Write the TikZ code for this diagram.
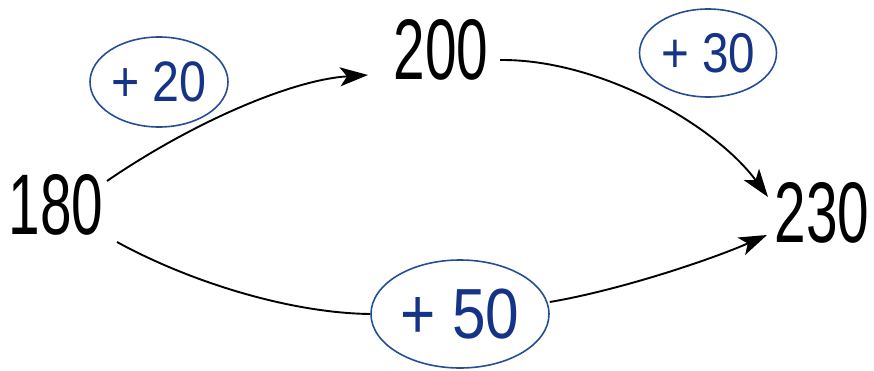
\documentclass[tikz,border=0pt]{standalone}
\usepackage{fontspec}
\usepackage{graphicx}
\setmainfont{Liberation Sans}
\usetikzlibrary{shapes.geometric,arrows.meta}
\definecolor{textblue}{RGB}{22,52,135}
\definecolor{edgeblue}{RGB}{38,78,150}
\tikzset{
  num/.style={inner sep=0pt, font=\fontsize{86}{86}\selectfont},
  oper/.style={ellipse, draw=edgeblue, line width=1.6pt, text=textblue, inner sep=0pt},
  conn/.style={line width=1.9pt, black},
  arr/.style={conn, -{Stealth[length=28pt,width=19pt,inset=7pt]}}
}
\begin{document}
\begin{tikzpicture}[x=1pt,y=1pt]
\useasboundingbox (0,0) rectangle (874,370);
\node[num] (n180) at (56,165) {\scalebox{0.66}[1]{180}};
\node[num] (n200) at (441,320) {\scalebox{0.66}[1]{200}};
\node[num] (n230) at (822,157) {\scalebox{0.66}[1]{230}};
\node[oper, minimum width=138pt, minimum height=90pt, font=\fontsize{57}{57}\selectfont] (e20) at (159,288) {\scalebox{0.85}[1]{+ 20}};
\node[oper, minimum width=137pt, minimum height=88pt, font=\fontsize{56}{56}\selectfont] (e30) at (708,317) {\scalebox{0.85}[1]{+ 30}};
\node[oper, minimum width=178pt, minimum height=108pt, font=\fontsize{71}{71}\selectfont] (e50) at (460,56) {\scalebox{0.85}[1]{+ 50}};
\draw[arr] ([shift={(51,24)}]n180.center) .. controls (190,246) and (290,290) .. ([shift={(-73,-25)}]n200.center);
\draw[arr] ([shift={(59,-10)}]n200.center) .. controls (600,311) and (715,245) .. ([shift={(-54,16)}]n230.center);
\draw[conn] ([shift={(61,-37)}]n180.center) .. controls (190,88) and (290,57) .. (e50.west);
\draw[arr] ([shift={(0,12)}]e50.east) .. controls (620,80) and (710,110) .. ([shift={(-55,-22)}]n230.center);
\end{tikzpicture}
\end{document}
